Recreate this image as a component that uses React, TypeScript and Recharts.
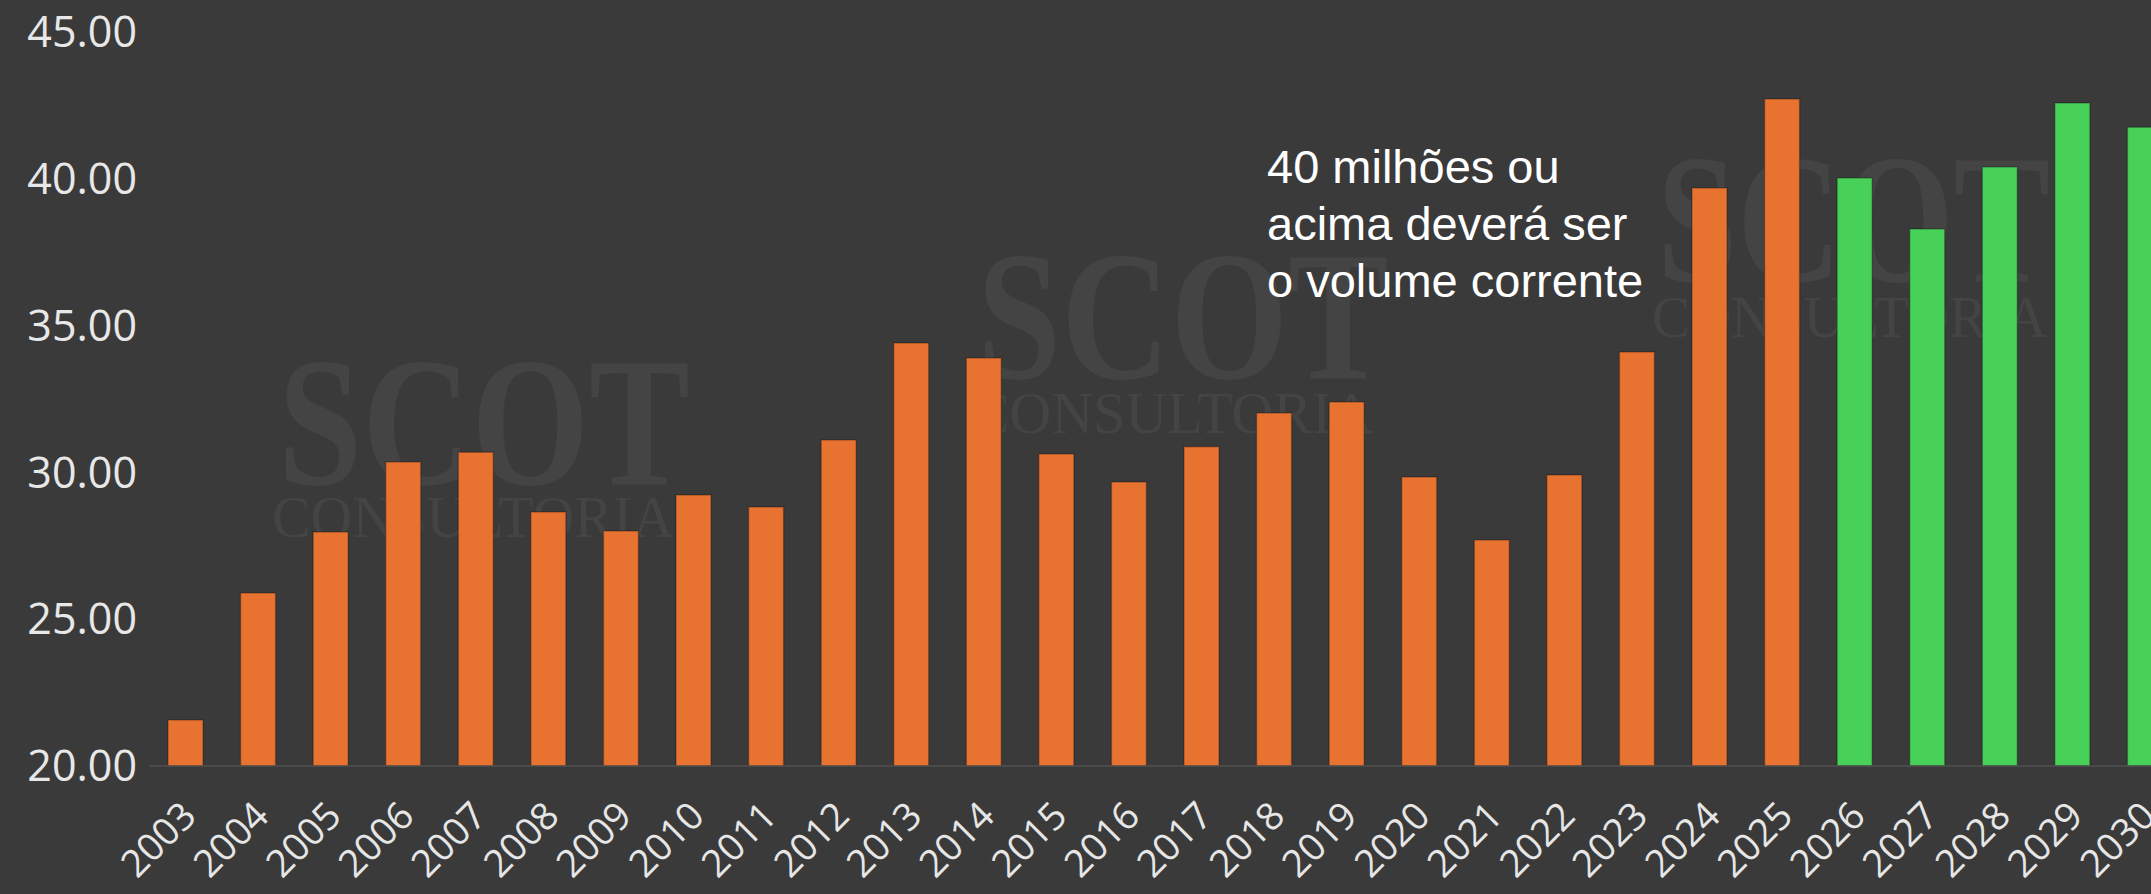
import React from 'react';
import { BarChart, Bar, XAxis, YAxis, Cell } from 'recharts';

const years = [
  '2003', '2004', '2005', '2006', '2007', '2008', '2009', '2010', '2011', '2012',
  '2013', '2014', '2015', '2016', '2017', '2018', '2019', '2020', '2021', '2022',
  '2023', '2024', '2025', '2026', '2027', '2028', '2029', '2030',
];
const historico = [
  21.57, 25.89, 27.97, 30.35, 30.69, 28.65, 28.0, 29.23, 28.82, 31.1,
  34.41, 33.9, 30.63, 29.67, 30.87, 32.02, 32.4, 29.84, 27.7, 29.91,
  34.1, 39.69, 42.72,
];
const projecao = [40.03, 38.29, 40.4, 42.58, 41.76];
const yTicks = [20, 25, 30, 35, 40, 45];
const annotationLines = ['40 milhões ou', 'acima deverá ser', 'o volume corrente'];
const watermarkTitle = 'SCOT';
const watermarkSub = 'CONSULTORIA';

const COLOR_HIST = '#E87330';
const COLOR_PROJ = '#48D158';
const BG = '#3a3a3a';

const data = years.map((year, i) => ({
  year,
  value: i < historico.length ? historico[i] : projecao[i - historico.length],
  projected: i >= historico.length,
}));

const XTick = (props: any) => {
  const { x, y, payload } = props;
  const ax = x - 6;
  const ay = y + 33;
  return (
    <text
      x={ax}
      y={ay}
      dy="0.71em"
      textAnchor="end"
      transform={`rotate(-45, ${ax}, ${ay})`}
      fill="#e6e6e6"
      fontSize={38}
      fontFamily="'Open Sans', sans-serif"
    >
      {payload.value}
    </text>
  );
};

const watermarks = [
  { sx: 278, sy: 484, sw: 412, cx: 272, cy: 537, cw: 402 },
  { sx: 977, sy: 378, sw: 412, cx: 971, cy: 433, cw: 402 },
  { sx: 1657, sy: 281, sw: 393, cx: 1652, cy: 337, cw: 395 },
];

export default function App() {
  return (
    <div
      style={{
        position: 'fixed',
        left: 0,
        top: 0,
        width: 2151,
        height: 894,
        overflow: 'hidden',
        background: BG,
      }}
    >
      <svg width={2151} height={894} style={{ position: 'absolute', left: 0, top: 0 }}>
        {watermarks.map((w, i) => (
          <g key={i} fill="#444444" fontFamily="'Liberation Serif', 'DejaVu Serif', serif">
            <text x={w.sx} y={w.sy} fontSize={185} fontWeight="bold" textLength={w.sw} lengthAdjust="spacingAndGlyphs">
              {watermarkTitle}
            </text>
            <text x={w.cx} y={w.cy} fontSize={59} textLength={w.cw} lengthAdjust="spacingAndGlyphs">
              {watermarkSub}
            </text>
          </g>
        ))}
      </svg>
      <div style={{ position: 'absolute', left: 0, top: 0 }}>
        <BarChart
          width={2200}
          height={894}
          data={data}
          margin={{ top: 32, right: 19, bottom: 0, left: 0 }}
        >
          <XAxis
            dataKey="year"
            interval={0}
            height={128}
            tickLine={false}
            tickSize={0}
            tickMargin={0}
            axisLine={{ stroke: '#505050', strokeWidth: 1.5 }}
            tick={<XTick />}
          />
          <YAxis
            domain={[20, 45]}
            ticks={yTicks}
            allowDataOverflow
            width={149}
            axisLine={false}
            tickLine={false}
            tickSize={0}
            tickMargin={12}
            tickFormatter={(v: number) => v.toFixed(2)}
            tick={{ fill: '#e8e8e8', fontSize: 43, fontFamily: "'Open Sans', sans-serif" }}
          />
          <Bar dataKey="value" barSize={35} isAnimationActive={false} stroke="rgba(0,0,0,0.25)" strokeWidth={1.5}>
            {data.map((d, i) => (
              <Cell key={i} fill={d.projected ? COLOR_PROJ : COLOR_HIST} />
            ))}
          </Bar>
        </BarChart>
      </div>
      <svg
        width={2151}
        height={894}
        style={{ position: 'absolute', left: 0, top: 0, pointerEvents: 'none' }}
      >
        {annotationLines.map((line, i) => (
          <text
            key={i}
            x={1267}
            y={183 + i * 57}
            fill="#ffffff"
            fontSize={47}
            fontFamily="'Liberation Sans', Arial, sans-serif"
          >
            {line}
          </text>
        ))}
      </svg>
    </div>
  );
}
